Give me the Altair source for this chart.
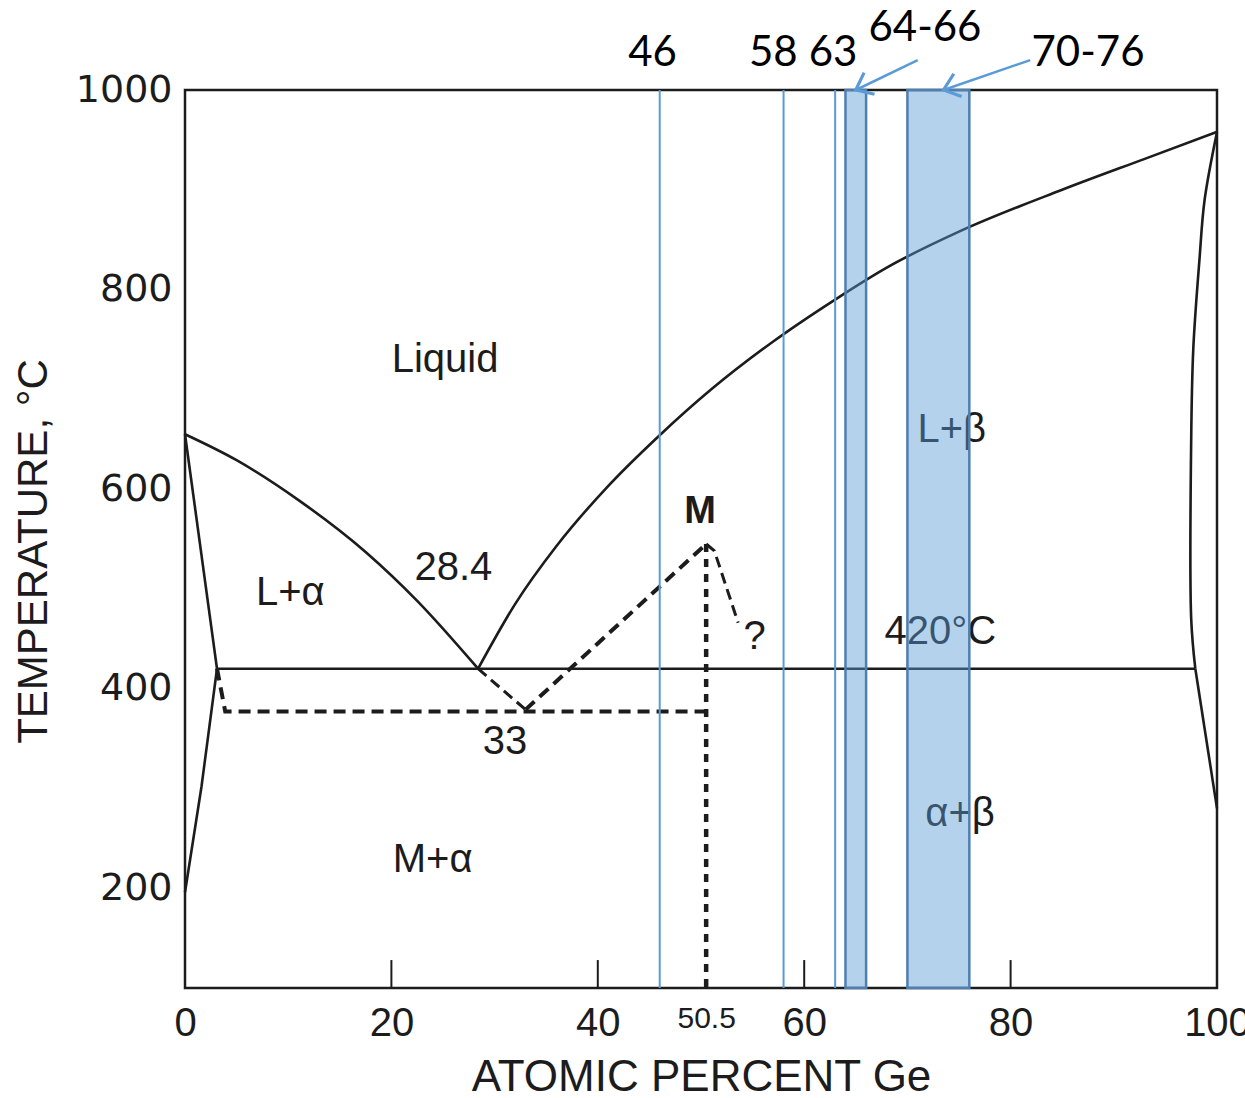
import math
import altair as alt
import pandas as pd

# ---- Al–Ge phase boundaries: composition (at.% Ge) and temperature (°C) ----
al_liquidus_x = [0, 5, 11, 17.5, 22.5, 28.4]
al_liquidus_t = [655, 629, 589, 537, 488, 420]
al_solidus_x = [0, 3.1]
al_solidus_t = [655, 420]
al_solvus_x = [3.1, 1.6, 0]
al_solvus_t = [420, 302, 196]
eutectic_x = [3.1, 97.9]
eutectic_t = [420, 420]
ge_liquidus_x = [28.4, 32, 36, 41, 46, 51, 57, 63, 68, 75, 85, 93, 100]
ge_liquidus_t = [420, 485, 543, 603, 654, 700, 748, 790, 822, 858, 900, 931, 958]
ge_solidus_x = [100, 98.8, 98.3, 97.7, 97.5, 97.5, 97.9]
ge_solidus_t = [958, 890, 830, 740, 650, 470, 420]
ge_solvus_x = [97.9, 100]
ge_solvus_t = [420, 280]

# ---- metastable M phase (dashed / dotted) ----
meta_al_x = [3.1, 3.9, 50.5]
meta_al_t = [420, 377, 377]
meta_eut_x = [28.4, 33]
meta_eut_t = [420, 379]
meta_m_x = [33, 50.5]
meta_m_t = [379, 545]
meta_q_x = [50.5, 51.3, 53.6]
meta_q_t = [545, 538, 466]
m_vert_x = [50.5, 50.5]
m_vert_t = [545, 100]

# inward x ticks
tick_x = [20, 40, 60, 80]

# ---- marked compositions ----
mark_lines = [46, 58, 63]
band_start = [64, 70]
band_end = [66, 76]

# region labels
region_text = ["Liquid", "L+α", "28.4", "?", "420°C", "33", "L+β", "α+β", "M+α"]
region_x = [25.2, 10.2, 26.0, 55.2, 73.2, 31.0, 74.3, 75.1, 24.0]
region_t = [729, 496, 521, 452, 457, 347, 659, 274, 228]

# top annotations
note_text = ["46", "58", "63", "64-66", "70-76"]
note_x = [45.3, 57.0, 62.8, 71.7, 87.5]
note_t = [1037, 1037, 1037, 1062, 1037]

# arrows: start -> tip
arrow_x0 = [71.0, 81.9]
arrow_t0 = [1030, 1030]
arrow_x1 = [65.0, 73.5]
arrow_t1 = [1000, 1000]

W, H = 1032, 898
X_DOM = [0, 100]
T_DOM = [100, 1000]
BLUE = "#5B9BD5"
INK = "#1c1c1c"


def curve_frame(curves):
    rows = []
    for name, xs, ts in curves:
        for i, (x, t) in enumerate(zip(xs, ts)):
            rows.append({"curve": name, "order": i, "x": x, "t": t})
    return pd.DataFrame(rows)


x_axis = alt.Axis(
    values=[0, 20, 40, 50.5, 60, 80, 100],
    labelExpr="'' + datum.value",
    labelFont="Liberation Sans",
    labelFontSize={"condition": {"test": "datum.value == 50.5", "value": 30}, "value": 40},
    labelColor=INK,
    labelPadding=15,
    labelFlush=False,
    labelOverlap=False,
    ticks=False,
    tickSize=0,
    domain=False,
    grid=False,
    title="ATOMIC PERCENT Ge",
    titleFont="Liberation Sans",
    titleFontSize=44,
    titleFontWeight="normal",
    titleColor=INK,
    titlePadding=12,
)
y_axis = alt.Axis(
    values=[200, 400, 600, 800, 1000],
    labelExpr="'' + datum.value",
    labelFont="DejaVu Sans",
    labelFontSize=38,
    labelColor=INK,
    labelPadding=13,
    labelFlush=False,
    labelOverlap=False,
    ticks=False,
    tickSize=0,
    domain=False,
    grid=False,
    title="TEMPERATURE, °C",
    titleFont="Liberation Sans",
    titleFontSize=42,
    titleFontWeight="normal",
    titleColor=INK,
    titlePadding=20,
    titleY=H / 2 + 12,
)

xs = alt.Scale(domain=X_DOM, nice=False, zero=False)
ts = alt.Scale(domain=T_DOM, nice=False, zero=False)
X = alt.X("x:Q", scale=xs, axis=x_axis)
Y = alt.Y("t:Q", scale=ts, axis=y_axis)

liquidus = alt.Chart(curve_frame([
    ("al_liq", al_liquidus_x, al_liquidus_t),
    ("ge_liq", ge_liquidus_x, ge_liquidus_t),
])).mark_line(color=INK, strokeWidth=2.6, interpolate="monotone").encode(
    x=X, y=Y, detail="curve:N", order="order:Q")

straight = alt.Chart(curve_frame([
    ("al_sol", al_solidus_x, al_solidus_t),
    ("al_svs", al_solvus_x, al_solvus_t),
    ("eut", eutectic_x, eutectic_t),
    ("ge_svs", ge_solvus_x, ge_solvus_t),
])).mark_line(color=INK, strokeWidth=2.6).encode(
    x=X, y=Y, detail="curve:N", order="order:Q")

ge_solidus = alt.Chart(curve_frame([
    ("ge_sol", ge_solidus_x, ge_solidus_t),
])).mark_line(color=INK, strokeWidth=2.6, interpolate="catmull-rom").encode(
    x=X, y=Y, detail="curve:N", order="order:Q")

thick_dash = alt.Chart(curve_frame([
    ("meta_al", meta_al_x, meta_al_t),
    ("meta_m", meta_m_x, meta_m_t),
])).mark_line(color=INK, strokeWidth=4, strokeDash=[12, 7]).encode(
    x=X, y=Y, detail="curve:N", order="order:Q")

thin_dash = alt.Chart(curve_frame([
    ("meta_eut", meta_eut_x, meta_eut_t),
    ("meta_q", meta_q_x, meta_q_t),
])).mark_line(color=INK, strokeWidth=3, strokeDash=[11, 6]).encode(
    x=X, y=Y, detail="curve:N", order="order:Q")

dotted = alt.Chart(curve_frame([("m_vert", m_vert_x, m_vert_t)])).mark_line(
    color=INK, strokeWidth=4.5, strokeDash=[8, 7]
).encode(x=X, y=Y, detail="curve:N", order="order:Q")

ticks = alt.Chart(pd.DataFrame({"x": tick_x, "t": [T_DOM[0]] * 4, "t2": [128] * 4})).mark_rule(
    color=INK, strokeWidth=2
).encode(x=X, y=Y, y2="t2:Q")

regions = alt.Chart(pd.DataFrame({"x": region_x, "t": region_t, "label": region_text})).mark_text(
    font="Liberation Sans", fontSize=40, color=INK, align="center", baseline="middle"
).encode(x=X, y=Y, text="label:N")

m_label = alt.Chart(pd.DataFrame({"x": [49.9], "t": [577], "label": ["M"]})).mark_text(
    font="Liberation Sans", fontSize=38, fontWeight="bold", color=INK, align="center", baseline="middle"
).encode(x=X, y=Y, text="label:N")

# ---- blue overlay ----
bands = alt.Chart(pd.DataFrame({
    "x": band_start, "x2": band_end, "t": [T_DOM[0]] * 2, "t2": [T_DOM[1]] * 2
})).mark_rect(fill=BLUE, fillOpacity=0.45, stroke="#4F7FB0", strokeWidth=2.5).encode(
    x=X, x2="x2:Q", y=Y, y2="t2:Q")

vlines = alt.Chart(pd.DataFrame({
    "x": mark_lines, "t": [T_DOM[0]] * 3, "t2": [T_DOM[1]] * 3
})).mark_rule(color=BLUE, strokeWidth=2).encode(x=X, y=Y, y2="t2:Q")

shafts = alt.Chart(pd.DataFrame({
    "x": arrow_x0, "t": arrow_t0, "x2": arrow_x1, "t2": arrow_t1
})).mark_rule(color=BLUE, strokeWidth=2.5).encode(x=X, y=Y, x2="x2:Q", y2="t2:Q")

px_x = W / (X_DOM[1] - X_DOM[0])
px_t = H / (T_DOM[1] - T_DOM[0])
head_angle = [
    math.degrees(math.atan2(-(t1 - t0) * px_t, (x1 - x0) * px_x)) % 360
    for x0, t0, x1, t1 in zip(arrow_x0, arrow_t0, arrow_x1, arrow_t1)
]
heads = alt.Chart(pd.DataFrame({"x": arrow_x1, "t": arrow_t1, "angle": head_angle})).mark_point(
    shape="M -1 -0.8 L 0 0 L -1 0.8", filled=False, stroke=BLUE, strokeWidth=3.2, size=900, opacity=1
).encode(x=X, y=Y, angle=alt.Angle("angle:Q", scale=None))

notes = alt.Chart(pd.DataFrame({"x": note_x, "t": note_t, "label": note_text})).mark_text(
    font="Lato", fontSize=42, color="#000000", align="center", baseline="middle"
).encode(x=X, y=Y, text="label:N")

chart = alt.layer(
    ticks, liquidus, straight, ge_solidus, thick_dash, thin_dash, dotted, regions, m_label,
    bands, vlines, shafts, heads, notes,
).properties(
    width=W,
    height=H,
    autosize=alt.AutoSizeParams(type="none"),
    padding={"left": 185, "top": 90, "right": 28, "bottom": 110},
    background="white",
).configure_view(stroke=INK, strokeWidth=2.5)

chart.save("out.html", embed_options={"renderer": "svg", "actions": False})
